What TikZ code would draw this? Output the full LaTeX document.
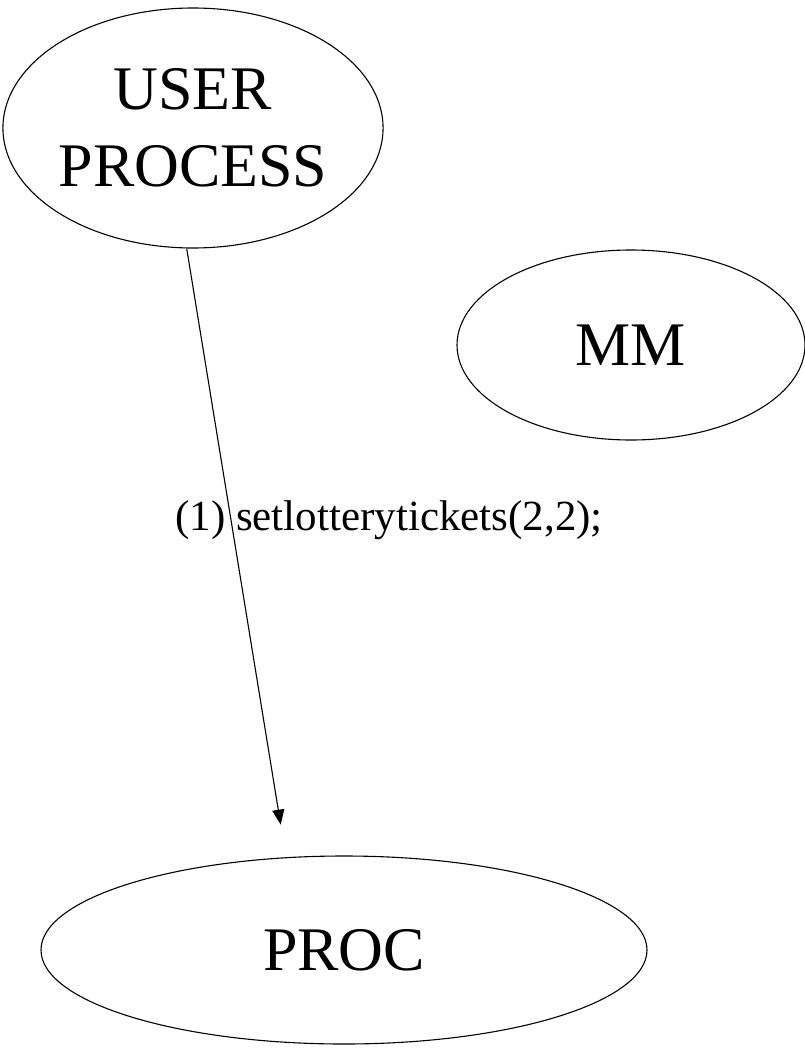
\documentclass[tikz,border=0pt]{standalone}
\usepackage{fontspec}
\setmainfont{Liberation Serif}
\usetikzlibrary{shapes,arrows.meta,positioning}
\tikzset{
	basic/.style = {draw, ellipse, inner sep=0pt, line width=1.1pt, align=center},
	oval/.style = {basic, font=\fontsize{62}{77}\selectfont},
	msg/.style = {font=\fontsize{43}{50}\selectfont, inner sep=0pt}
}
\begin{document}
\begin{tikzpicture}[x=1pt, y=-1pt, >={Triangle[length=15pt,width=12pt]}]
	\useasboundingbox (0,0) rectangle (805,1049);
	% the three processes
	\node[oval, minimum width=368pt, minimum height=240pt] (user) at (193,128) {USER\\PROCESS};
	\node[oval, minimum width=348pt, minimum height=190pt] (mm) at (631,345) {MM};
	\node[oval, minimum width=606pt, minimum height=188pt] (proc) at (344,950) {PROC};
	
	% the message sent to PROC
	\node[msg] (call) at (389,520) {(1) setlotterytickets(2,2);};
	\draw[->, line width=1.1pt, shorten >=33pt] (user.267) -- (proc.122);
\end{tikzpicture}
\end{document}
